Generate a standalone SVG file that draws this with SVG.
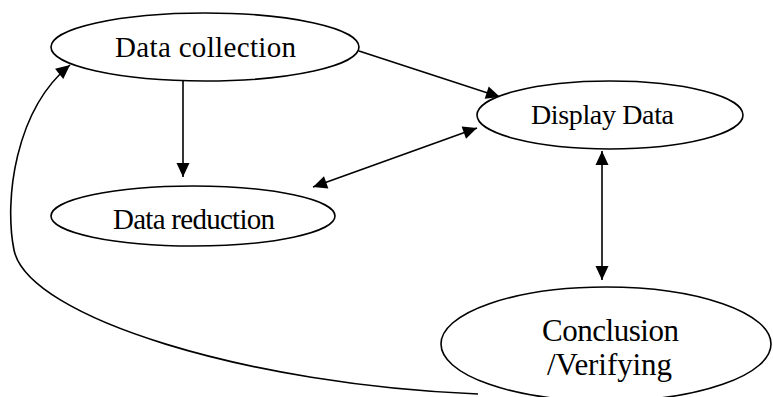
<svg xmlns="http://www.w3.org/2000/svg" width="773" height="397" viewBox="0 0 773 397">
  <style>
    .node ellipse { fill: #ffffff; stroke: #000000; stroke-width: 1.6; }
    .node text { font-family: "Liberation Serif", "Times New Roman", serif; fill: #000000; text-anchor: middle; }
    .edge { fill: none; stroke: #000000; stroke-width: 1.6; }
  </style>
  <defs>
    <marker id="arrow" markerUnits="userSpaceOnUse" markerWidth="16" markerHeight="16" viewBox="0 0 16 16" refX="15" refY="8" orient="auto-start-reverse">
      <path d="M1,1.5 L15,8 L1,14.5 Z" fill="#000000"/>
    </marker>
  </defs>
  <rect x="0" y="0" width="773" height="397" fill="#ffffff"/>

  <g id="connectors">
    <path class="edge" d="M183,81 L183,177" marker-end="url(#arrow)"/>
    <path class="edge" d="M359,51 L500,97" marker-end="url(#arrow)"/>
    <path class="edge" d="M313,187 L477,128" marker-start="url(#arrow)" marker-end="url(#arrow)"/>
    <path class="edge" d="M602,151 L602,280" marker-start="url(#arrow)" marker-end="url(#arrow)"/>
    <path class="edge" d="M478,394 C250,385 28,318 14,250 C4,200 15,110 70,65" marker-end="url(#arrow)"/>
  </g>

  <g id="node-data-collection" class="node">
    <ellipse cx="205" cy="47" rx="154" ry="34"/>
    <text x="205.5" y="57" font-size="29" textLength="181">Data collection</text>
  </g>

  <g id="node-data-reduction" class="node">
    <ellipse cx="193" cy="216" rx="142" ry="30"/>
    <text x="194" y="229" font-size="29" textLength="162">Data reduction</text>
  </g>

  <g id="node-display-data" class="node">
    <ellipse cx="610" cy="115" rx="133" ry="34"/>
    <text x="602.5" y="124" font-size="28" textLength="143">Display Data</text>
  </g>

  <g id="node-conclusion" class="node">
    <ellipse cx="606" cy="344" rx="165" ry="57"/>
    <text x="610.5" y="341" font-size="31" textLength="137">Conclusion</text>
    <text x="609.5" y="375" font-size="31" textLength="125">/Verifying</text>
  </g>
</svg>
